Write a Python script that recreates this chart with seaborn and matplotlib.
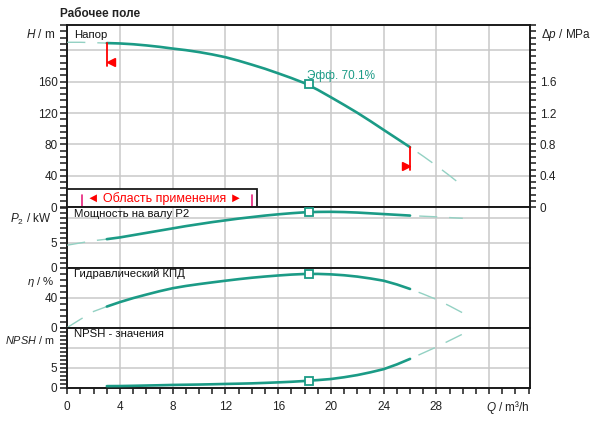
import matplotlib
matplotlib.use("Agg")
import matplotlib.pyplot as plt
from matplotlib.patches import Rectangle
from matplotlib.ticker import MultipleLocator
import numpy as np
import pandas as pd
import seaborn as sns

sns.set_style("ticks")
plt.rcParams.update({
    "font.family": ["Liberation Sans", "DejaVu Sans"],
    "mathtext.fontset": "custom",
    "mathtext.rm": "Liberation Sans",
    "mathtext.it": "Liberation Sans:italic",
    "lines.scale_dashes": False,
    "text.color": "#222222",
})

# flow points (m3/h) and curves
q = list(range(0, 31))
head = [210, 210, 209.5, 209, 208.5, 207.5, 206, 204.2, 202, 200, 197.5, 194.5,
        191, 186.5, 181.5, 176.3, 170.5, 164.5, 158, 149.5, 140, 130.3, 120.3,
        109.6, 98.5, 87.5, 76.5, 65, 53, 40.3, 27]
power = [4.55, 5.0, 5.45, 5.75, 6.1, 6.55, 7.0, 7.45, 7.9, 8.35, 8.75, 9.15, 9.5,
         9.85, 10.15, 10.45, 10.7, 10.92, 11.1, 11.18, 11.2, 11.15, 11.05, 10.9,
         10.75, 10.6, 10.45, 10.32, 10.2, 10.05, 9.9]
eta = [0, 11, 21.5, 28, 34, 39.3, 44, 48.5, 52.5, 55.5, 58, 60.3, 62.5, 64.6,
       66.5, 68.1, 69.5, 70.7, 71.5, 71.6, 71, 69.8, 68, 65.5, 62.5, 57.5, 51.5,
       44.7, 37.5, 28.8, 19.5]
npsh = [np.nan, np.nan, np.nan, 0.4, 0.42, 0.48, 0.55, 0.62, 0.7, 0.75, 0.8,
        0.87, 0.95, 1.02, 1.1, 1.22, 1.35, 1.5, 1.7, 1.93, 2.2, 2.65, 3.2, 3.9,
        4.7, 5.9, 7.3, 8.8, 10.3, 11.95, 13.6]

q_min, q_max = 3, 26              # operating range limits
q_bep = 18.3                      # duty point
bep = {"head": 157, "power": 11.15, "eta": 71.7, "npsh": 1.75}
eff_text = "Эфф. 70.1%"

x_ticks = [0, 4, 8, 12, 16, 20, 24, 28, 32]
x_labels = ["0", "4", "8", "12", "16", "20", "24", "28", ""]
h_ticks, h_labels = [0, 40, 80, 120, 160, 200], ["0", "40", "80", "120", "160", ""]
dp_ticks, dp_labels = [0, 0.4, 0.8, 1.2, 1.6, 2.0], ["0", "0.4", "0.8", "1.2", "1.6", ""]
p_ticks, p_labels = [0, 5, 10], ["0", "5", ""]
e_ticks, e_labels = [0, 40], ["0", "40"]
n_ticks, n_labels = [0, 5, 10], ["0", "5", ""]

teal = "#1b9b86"
teal_light = "#93d1c3"
grid_c = "#c9c9c9"
dark = "#1a1a1a"

fig = plt.figure(figsize=(6, 4.25), dpi=100)
W, H = 600, 425
x0, x1 = 67.3, 530
edges = [25, 207.3, 268, 327.5, 387.7]
axes = []
for i in range(4):
    rect = [x0 / W, 1 - edges[i + 1] / H, (x1 - x0) / W, (edges[i + 1] - edges[i]) / H]
    axes.append(fig.add_axes(rect, sharex=axes[0] if axes else None))
ax_h, ax_p, ax_e, ax_n = axes

solid_kw = dict(color=teal, linewidth=1.9)


def draw_curve(ax, values):
    df = pd.DataFrame({"q": q, "v": values}).dropna()
    lead = df[df.q <= q_min]
    run = df[(df.q >= q_min) & (df.q <= q_max)]
    tail = df[df.q >= q_max]
    parts = [
        (lead, dict(color=teal_light, linewidth=1.0, linestyle=(0, (13, 8.6)))),
        (run, solid_kw),
        (tail, dict(color=teal_light, linewidth=1.0, linestyle=(15, (13, 8.6)))),
    ]
    for part, kw in parts:
        if len(part) > 1:
            sns.lineplot(data=part, x="q", y="v", ax=ax, estimator=None,
                         sort=False, zorder=3, **kw)
    ax.set(xlabel="", ylabel="")


for ax, vals, key in [(ax_h, head, "head"), (ax_p, power, "power"),
                      (ax_e, eta, "eta"), (ax_n, npsh, "npsh")]:
    draw_curve(ax, vals)
    ax.plot([q_bep], [bep[key]], marker="s", ms=5.2, mfc="white", mec=teal,
            mew=1.3, zorder=4)

# axis styling
ax_h.set_ylim(0, 232)
ax_p.set_ylim(0, 12.1)
ax_e.set_ylim(0, 79.5)
ax_n.set_ylim(0, 15.25)
for ax, ticks, labels, minor in [(ax_h, h_ticks, h_labels, 8), (ax_p, p_ticks, p_labels, 1),
                                  (ax_e, e_ticks, e_labels, 8), (ax_n, n_ticks, n_labels, 1)]:
    ax.set_xlim(0, 35.1)
    ax.set_xticks(x_ticks)
    ax.set_yticks(ticks, labels)
    ax.yaxis.set_minor_locator(MultipleLocator(minor))
    ax.grid(True, which="major", color=grid_c, linewidth=1.1)
    ax.set_axisbelow(True)
    for s in ax.spines.values():
        s.set_linewidth(1.4)
        s.set_color(dark)
    ax.tick_params(axis="y", which="both", direction="out", length=5, width=1.1,
                   labelsize=8.5, pad=2, color=dark, labelcolor="#222222")
    if ax is not ax_n:
        ax.tick_params(axis="x", which="both", length=0, labelbottom=False)

ax_n.set_xticks(x_ticks, x_labels)
ax_n.xaxis.set_minor_locator(MultipleLocator(1))
ax_n.tick_params(axis="x", which="both", direction="out", length=4.5, width=1.1,
                 labelsize=8.5, pad=5, color=dark, labelcolor="#222222")

# pressure axis on the right of the head panel
ax_dp = ax_h.twinx()
ax_dp.set_ylim(0, 2.32)
ax_dp.set_yticks(dp_ticks, dp_labels)
ax_dp.yaxis.set_minor_locator(MultipleLocator(0.08))
ax_dp.tick_params(axis="y", which="both", direction="out", length=4.5, width=1.1,
                  labelsize=8.5, pad=2.5, color=dark, labelcolor="#222222")
for s in ax_dp.spines.values():
    s.set_visible(False)

# operating range markers
i_min, i_max = q.index(q_min), q.index(q_max)
ax_h.plot([q_min, q_min], [head[i_min], head[i_min] - 29], color="red", lw=1.3, zorder=5)
ax_h.plot([q_min + 0.3], [head[i_min] - 24], marker="<", ms=6, color="red", zorder=5)
ax_h.plot([q_max, q_max], [head[i_max], head[i_max] - 29], color="red", lw=1.3, zorder=5)
ax_h.plot([q_max - 0.3], [head[i_max] - 24], marker=">", ms=6, color="red", zorder=5)

# efficiency note at duty point
ax_h.annotate(eff_text, (q_bep, bep["head"]), xytext=(-1, 6), textcoords="offset points",
              ha="left", va="center", fontsize=8.5, color=teal, zorder=5)

# application range box
ax_h.add_patch(Rectangle((0, 0), 0.41, 0.10, transform=ax_h.transAxes, facecolor="white",
                         edgecolor=dark, linewidth=1.3, zorder=6, clip_on=False))
ax_h.text(0.211, 0.05, "◄ Область применения ►", transform=ax_h.transAxes, ha="center",
          va="center", fontsize=9, color="#ff0000", zorder=7)
for xb in (0.031, 0.3985):
    ax_h.plot([xb, xb], [0.008, 0.067], transform=ax_h.transAxes, color="#e8207a",
              lw=1.2, zorder=7)

# panel captions
for ax, txt in [(ax_h, "Напор"), (ax_p, "Мощность на валу P2"),
                (ax_e, "Гидравлический КПД"), (ax_n, "NPSH - значения")]:
    ax.text(0.0145, 0.975, txt, transform=ax.transAxes, ha="left", va="top",
            fontsize=8.2, color="#111111", zorder=7)

# unit labels
fig.text(60 / W, 1 - 14 / H, "Рабочее поле", fontsize=8.5, fontweight="bold",
         ha="left", va="center", color="#222222")
fig.text(55 / W, 1 - 34 / H, "$H$ / m", fontsize=8.5, ha="right", va="center")
fig.text(541 / W, 1 - 35 / H, r"$\Delta p$ / MPa", fontsize=8.5, ha="left", va="center")
fig.text(51 / W, 1 - 219 / H, "$P_2$ / kW", fontsize=8.5, ha="right", va="center")
fig.text(55 / W, 1 - 282 / H, r"$\eta$ / %", fontsize=8.2, ha="right", va="center")
fig.text(55 / W, 1 - 340 / H, "$NPSH$ / m", fontsize=7.8, ha="right", va="center")
fig.text(530 / W, 1 - 407 / H, "$Q$ / m³/h", fontsize=8.5, ha="right", va="center")

fig.savefig("out.png", dpi=100)
